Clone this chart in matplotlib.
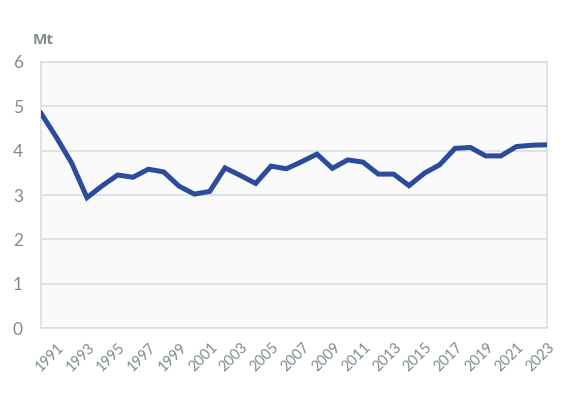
import matplotlib
matplotlib.use("Agg")
import matplotlib.pyplot as plt
from matplotlib.transforms import ScaledTranslation

years = list(range(1991, 2025))
values = [4.84, 4.30, 3.72, 2.94, 3.21, 3.45, 3.40, 3.58, 3.52, 3.20,
          3.02, 3.08, 3.61, 3.44, 3.26, 3.65, 3.59, 3.75, 3.92, 3.60,
          3.79, 3.74, 3.47, 3.47, 3.21, 3.49, 3.68, 4.05, 4.07, 3.88,
          3.88, 4.09, 4.12, 4.13]
tick_years = list(range(1991, 2024, 2))
y_ticks = [0, 1, 2, 3, 4, 5, 6]
unit_label = "Mt"

plt.rcParams['font.family'] = ['Lato', 'DejaVu Sans']

fig = plt.figure(figsize=(5.88, 3.93), dpi=100)
ax = fig.add_axes([41/588, 1-328.3/393, (547-41)/588, (328.3-61.7)/393])
ax.set_facecolor('#FAFAFA')

grid_c = '#D9DEE2'
line_c = '#2B4C9B'
text_c = '#7F8C8D'

ax.plot(years, values, color=line_c, linewidth=3.6, solid_joinstyle='miter', zorder=3)
ax.set_xlim(years[0], years[-1])
ax.set_ylim(0, 6)
ax.set_yticks(y_ticks)
ax.set_yticklabels([str(v) for v in y_ticks])
ax.yaxis.grid(True, color=grid_c, linewidth=1.2)
ax.set_axisbelow(True)
for s in ax.spines.values():
    s.set_color(grid_c)
    s.set_linewidth(1.2)

ax.set_xticks(tick_years)
ax.set_xticklabels([str(y) for y in tick_years], rotation=45,
                   ha='right', va='center', rotation_mode='anchor')
ax.tick_params(axis='x', length=0, pad=12, labelsize=10.5, labelcolor=text_c)
ax.tick_params(axis='y', length=0, pad=13, labelsize=12.5, labelcolor=text_c)
off = ScaledTranslation(21/100, 0, fig.dpi_scale_trans)
for lab in ax.get_xticklabels():
    lab.set_transform(lab.get_transform() + off)

fig.text(33/588, 1-40/393, unit_label, color=text_c, fontsize=11,
         fontweight='bold', family=['Open Sans', 'DejaVu Sans'],
         ha='left', va='center')

fig.savefig('out.png', dpi=100, facecolor='white')
